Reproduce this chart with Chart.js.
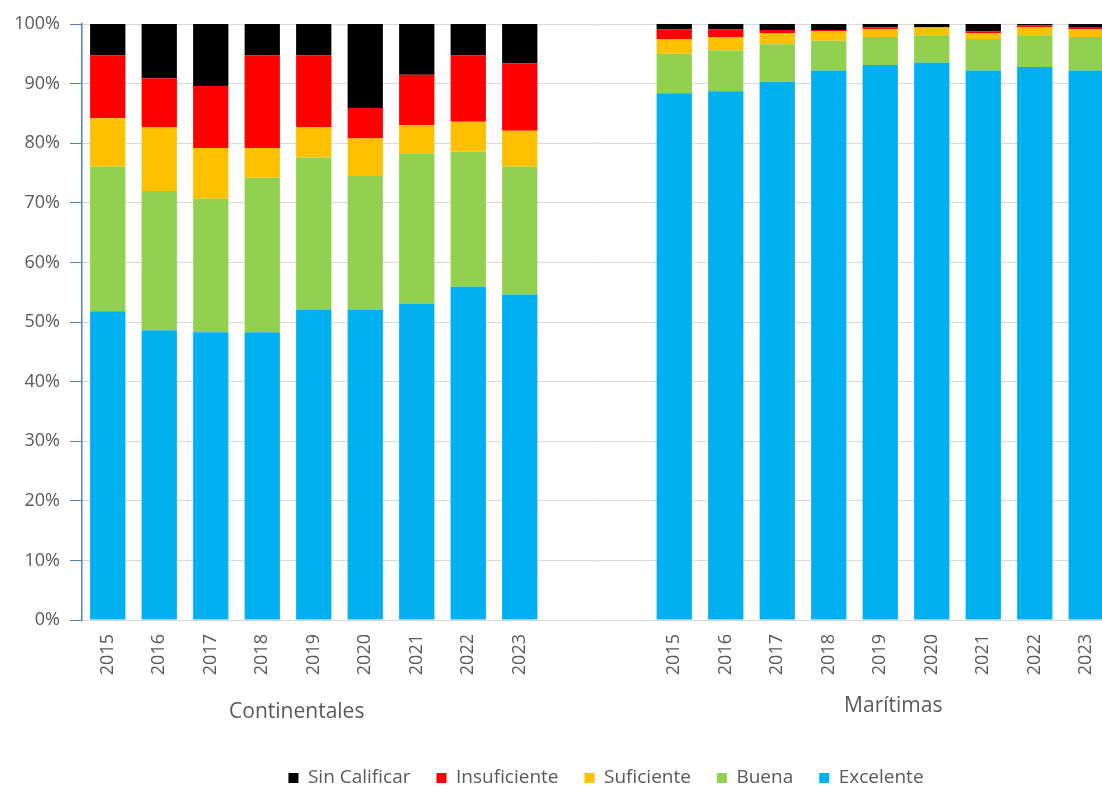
<!DOCTYPE html>
<html lang="es">
<head>
<meta charset="utf-8">
<title>Calidad de playas 2015–2023</title>
<script src="https://cdn.jsdelivr.net/npm/chart.js@4/dist/chart.umd.min.js"></script>
<style>
  html, body { margin: 0; padding: 0; background: #ffffff; overflow: hidden; }
  #wrap { width: 1132px; height: 787px; }
</style>
</head>
<body>
<div id="wrap"><canvas id="chart" width="1132" height="787"></canvas></div>
<script>
// Años de cada grupo y nombres de los grupos
const years = ['2015', '2016', '2017', '2018', '2019', '2020', '2021', '2022', '2023'];
const groups = ['Continentales', 'Marítimas'];
const yTicks = [0, 10, 20, 30, 40, 50, 60, 70, 80, 90, 100];

// Porcentaje por calificación — Continentales
const excelenteCont    = [51.8, 48.6, 48.3, 48.3, 52.1, 52.1, 53.1, 55.9, 54.6];
const buenaCont        = [24.3, 23.4, 22.4, 25.9, 25.5, 22.4, 25.2, 22.7, 21.5];
const suficienteCont   = [ 8.1, 10.7,  8.5,  5.0,  5.1,  6.3,  4.7,  5.0,  6.0];
const insuficienteCont = [10.5,  8.2, 10.4, 15.5, 12.0,  5.1,  8.5, 11.1, 11.3];
const sinCalificarCont = [ 5.3,  9.1, 10.4,  5.3,  5.3, 14.1,  8.5,  5.3,  6.6];

// Porcentaje por calificación — Marítimas
const excelenteMar    = [88.4, 88.7, 90.3, 92.2, 93.1, 93.5, 92.2, 92.8, 92.2];
const buenaMar        = [ 6.6,  6.9,  6.3,  5.0,  4.7,  4.6,  5.3,  5.3,  5.6];
const suficienteMar   = [ 2.5,  2.2,  1.9,  1.6,  1.3,  1.3,  1.0,  1.4,  1.3];
const insuficienteMar = [ 1.6,  1.3,  0.5,  0.2,  0.3,  0.1,  0.3,  0.3,  0.4];
const sinCalificarMar = [ 0.9,  0.9,  1.0,  1.0,  0.6,  0.5,  1.2,  0.2,  0.5];

// Dos posiciones vacías separan los grupos
const GAP = 2;
const gapLabels = Array(GAP).fill('');
const gapValues = Array(GAP).fill(null);
const labels = [...years, ...gapLabels, ...years];
const join = (a, b) => [...a, ...gapValues, ...b];

const TEXT = '#595959';
const FONT = "'Open Sans', 'Noto Sans', sans-serif";
const PLOT_BOTTOM = 620;
const LEGEND_CENTER_X = 606;
const LEGEND_CENTER_Y = 778;

// Rótulos de grupo bajo los años
const groupLabelPlugin = {
  id: 'groupLabels',
  afterDraw(chart) {
    const x = chart.scales.x;
    const ctx = chart.ctx;
    const n = years.length;
    const spots = [
      { from: 0, to: n - 1, dx: -17, y: 712 },
      { from: n + GAP, to: 2 * n + GAP - 1, dx: 13, y: 706 }
    ];
    ctx.save();
    ctx.fillStyle = TEXT;
    ctx.font = "21px " + FONT;
    ctx.textAlign = 'center';
    ctx.textBaseline = 'middle';
    spots.forEach((s, i) => {
      const cx = (x.getPixelForValue(s.from) + x.getPixelForValue(s.to)) / 2 + s.dx;
      ctx.fillText(groups[i], cx, s.y);
    });
    ctx.restore();
  }
};

// Coloca la leyenda en su sitio, bajo los rótulos de grupo
const legendPlacePlugin = {
  id: 'legendPlace',
  afterLayout(chart) {
    const lg = chart.legend;
    if (!lg) return;
    const lo = lg.options.labels;
    const fontSize = lo.font.size;
    const itemH = Math.max(fontSize, lo.boxHeight);
    const h = lg.height;
    lg.top = LEGEND_CENTER_Y - lo.padding - itemH / 2;
    lg.bottom = lg.top + h;
    const d = LEGEND_CENTER_X - (lg.left + lg.right) / 2;
    lg.left += d;
    lg.right += d;
  }
};

const ds = (label, color, a, b) => ({
  label,
  data: join(a, b),
  backgroundColor: color,
  borderWidth: 0,
  barPercentage: 0.685,
  categoryPercentage: 1.0
});

new Chart(document.getElementById('chart'), {
  type: 'bar',
  data: {
    labels,
    datasets: [
      ds('Excelente', '#00B0F0', excelenteCont, excelenteMar),
      ds('Buena', '#92D050', buenaCont, buenaMar),
      ds('Suficiente', '#FFC000', suficienteCont, suficienteMar),
      ds('Insuficiente', '#FF0000', insuficienteCont, insuficienteMar),
      ds('Sin Calificar', '#000000', sinCalificarCont, sinCalificarMar)
    ]
  },
  options: {
    responsive: false,
    animation: false,
    layout: { padding: { left: 0, right: 20, top: 24, bottom: 0 } },
    plugins: {
      tooltip: { enabled: false },
      legend: {
        position: 'bottom',
        reverse: true,
        labels: {
          color: TEXT,
          font: { family: FONT, size: 19 },
          boxWidth: 10,
          boxHeight: 10,
          padding: 26
        }
      }
    },
    scales: {
      x: {
        stacked: true,
        offset: true,
        grid: { display: true, drawOnChartArea: false, drawTicks: false, color: 'rgba(0,0,0,0)' },
        border: { display: true, color: '#d9d9d9', width: 1 },
        ticks: {
          color: TEXT,
          font: { family: FONT, size: 18 },
          autoSkip: false,
          maxRotation: 90,
          minRotation: 90,
          padding: 14
        },
        afterFit(scale) {
          const lg = scale.chart.legend;
          scale.height = 787 - PLOT_BOTTOM - (lg ? lg.height : 0);
        }
      },
      y: {
        stacked: true,
        min: 0,
        max: 100,
        afterBuildTicks(scale) {
          scale.ticks = yTicks.map(v => ({ value: v }));
        },
        grid: { color: '#d9d9d9', lineWidth: 1, tickColor: '#4f7fc4', tickLength: 12 },
        border: { display: true, color: '#4f7fc4', width: 1.5 },
        ticks: {
          color: TEXT,
          font: { family: FONT, size: 18 },
          padding: 10,
          callback: v => v + '%'
        },
        afterFit(scale) { scale.width = 82; }
      }
    }
  },
  plugins: [groupLabelPlugin, legendPlacePlugin]
});
</script>
</body>
</html>
